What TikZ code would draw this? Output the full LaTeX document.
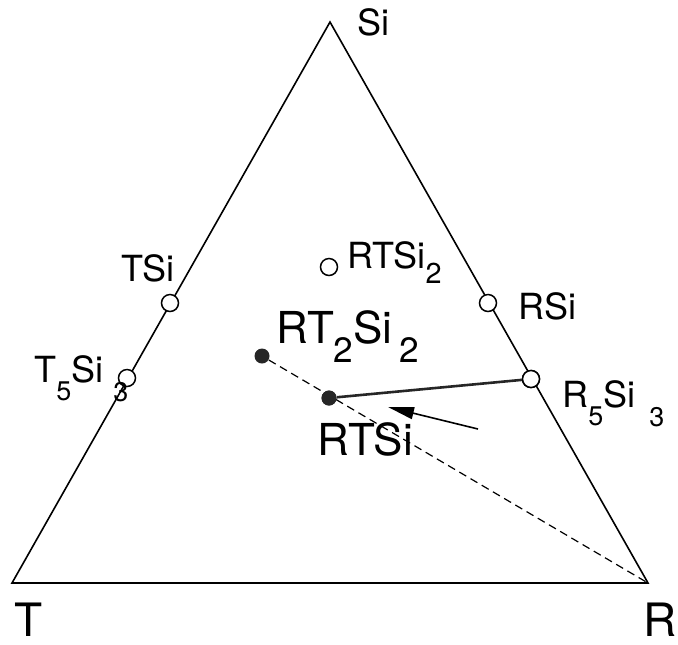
\documentclass[tikz,border=0pt]{standalone}
\usepackage{fontspec}
\setmainfont{TeX Gyre Heros}
\usetikzlibrary{arrows.meta}
% subscripts hanging below the baseline, as in the original plot
\newcommand\lowsub[1]{\raisebox{-\height}{\scalebox{.75}{#1}}}
\newcommand\midsub[2]{\raisebox{-#1}{\scalebox{.8}{#2}}}
\tikzset{
  edge/.style={line width=.8pt, line join=miter},
  phase/.style={circle, draw, line width=.75pt, fill=white, inner sep=0pt, minimum size=8.5pt},
  dot/.style={circle, fill=black!85, inner sep=0pt, minimum size=7.5pt},
  lbl/.style={inner sep=0pt, anchor=base west, font=\fontsize{18}{20}\selectfont},
  biglbl/.style={lbl, font=\fontsize{22}{24}\selectfont},
  vtxlbl/.style={lbl, font=\fontsize{23}{25}\selectfont},
  tie/.style={line width=1.3pt, draw=black!85},
  tieline/.style={dashed, dash pattern=on 4pt off 2.5pt, line width=.6pt},
  arrow/.style={-{Triangle[length=13pt,width=6pt]}, line width=.8pt}
}
\begin{document}
\begin{tikzpicture}[x=0.5pt,y=-0.5pt]
  \useasboundingbox (0,0) rectangle (678,644);

  % corners of the ternary section
  \coordinate (T) at (12,583);
  \coordinate (R) at (648,583);
  \coordinate (Si) at (330,22);
  \draw[edge] (T) -- (R) -- (Si) -- cycle;

  % tie line and arrow (drawn first, points on top)
  \node[dot] (rt2si2) at (262,356) {};
  \node[dot] (rtsi) at (329,398) {};
  \node[phase] (r5si3) at (531,379) {};
  \draw[tieline] (rt2si2) -- (R);
  \draw[tie] (rtsi) -- (r5si3);

  \node[phase] (tsi) at (170,303) {};
  \node[phase] (t5si3) at (127,378) {};
  \node[phase] (rsi) at (488,303) {};
  \node[phase] (rtsi2) at (329,267) {};
  \node[dot] at (rtsi) {};
  \node[phase] at (r5si3) {};

  \coordinate (arrTail) at (478,429);
  \coordinate (arrTip) at (388,407);
  \draw[arrow] (arrTail) -- (arrTip);

  % labels
  \node[lbl] (lblSi) at (357,35) {Si};
  \node[vtxlbl] (lblT) at (14,636) {T};
  \node[vtxlbl] (lblR) at (643,636) {R};
  \node[lbl] (lblTSi) at (121,281) {TSi};
  \node[lbl] (lblT5Si3) at (34,382) {T\lowsub{5}Si\hspace{5pt}\lowsub{3}};
  \node[lbl] (lblRTSi2) at (347,268) {RTSi\midsub{7.5pt}{2}};
  \node[lbl] (lblRSi) at (518,319) {RSi};
  \node[lbl] (lblR5Si3) at (562,407) {R\lowsub{5}Si\hspace{7pt}\lowsub{3}};
  \node[biglbl] (lblRT2Si2) at (276,343) {RT\midsub{9.5pt}{2}Si\hspace{3.5pt}\midsub{9.5pt}{2}};
  \node[biglbl] (lblRTSi) at (317,455) {RTSi};
\end{tikzpicture}
\end{document}
